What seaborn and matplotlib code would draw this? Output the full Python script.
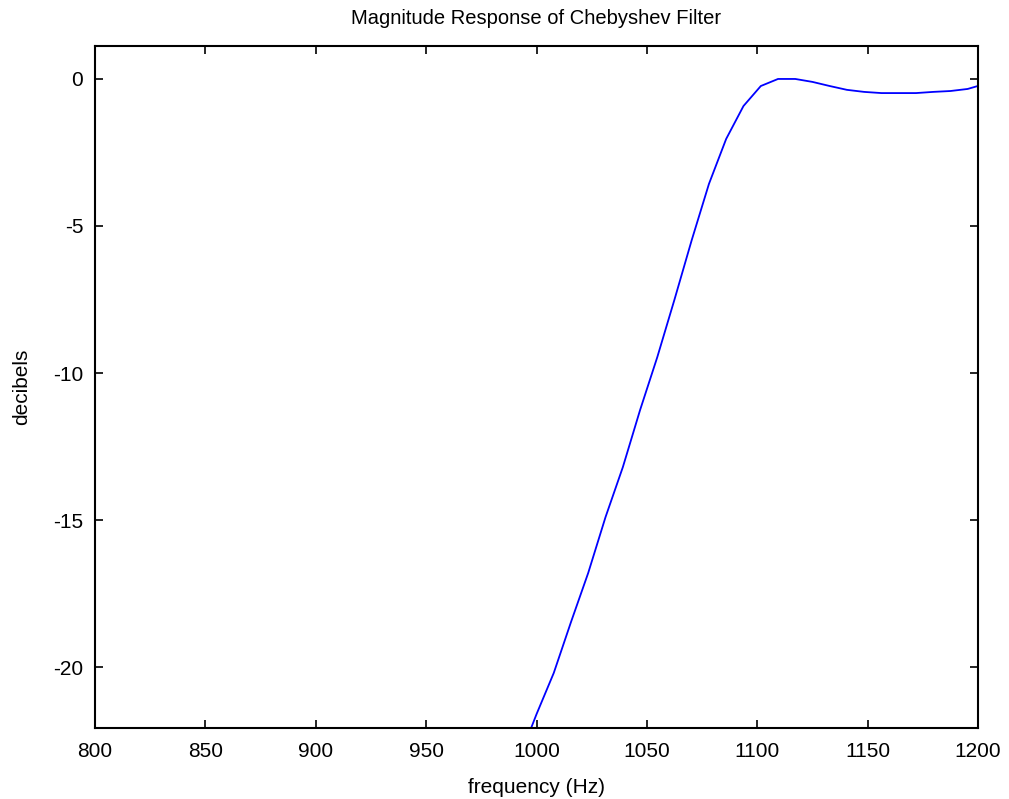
import matplotlib
matplotlib.use("Agg")
import matplotlib.pyplot as plt
import seaborn as sns
import pandas as pd

freq_hz = [992.2, 1000.0, 1007.8, 1015.6, 1023.4, 1031.25, 1039.1, 1046.9, 1054.7,
           1062.5, 1070.3, 1078.1, 1085.9, 1093.75, 1101.6, 1109.4, 1117.2, 1125.0,
           1132.8, 1140.6, 1148.4, 1156.25, 1164.1, 1171.9, 1179.7, 1187.5, 1195.3, 1203.1]
mag_db = [-23.1, -21.6, -20.2, -18.47, -16.8, -14.9, -13.2, -11.26, -9.46,
          -7.5, -5.48, -3.57, -2.04, -0.92, -0.24, 0.0, 0.0, -0.1,
          -0.24, -0.37, -0.44, -0.48, -0.48, -0.48, -0.44, -0.41, -0.34, -0.17]
x_ticks = [800, 850, 900, 950, 1000, 1050, 1100, 1150, 1200]
y_ticks = [0, -5, -10, -15, -20]

df = pd.DataFrame({"freq": freq_hz, "db": mag_db})

sns.set_style("ticks")
plt.rcParams['font.family'] = ['Liberation Sans', 'DejaVu Sans']
plt.rcParams['axes.unicode_minus'] = False
plt.rcParams['text.color'] = 'black'
plt.rcParams['axes.labelcolor'] = 'black'

fig = plt.figure(figsize=(10.09, 7.99), dpi=100)
ax = fig.add_axes([0.0942, 0.0889, 0.8751, 0.8535])
sns.lineplot(data=df, x="freq", y="db", ax=ax, color="#0000ff", linewidth=1.3, sort=False)

ax.set_xlim(800, 1200)
ax.set_ylim(-22.07, 1.12)
ax.set_xticks(x_ticks)
ax.set_yticks(y_ticks)
ax.set_xticklabels([str(v) for v in x_ticks])
ax.set_yticklabels([str(v) for v in y_ticks])
ax.tick_params(direction="in", length=5.5, width=1.2, top=True, right=True,
               labelsize=15, colors="black")
ax.tick_params(axis="x", pad=10)
ax.tick_params(axis="y", pad=8.5)
for s in ax.spines.values():
    s.set_visible(True)
    s.set_linewidth(1.5)
    s.set_color("black")

ax.set_title("Magnitude Response of Chebyshev Filter", fontsize=14.5, pad=16, color="black")
ax.set_xlabel("frequency (Hz)", fontsize=15, labelpad=12)
ax.set_ylabel("decibels", fontsize=15, labelpad=16)

fig.savefig("out.png", dpi=100)
